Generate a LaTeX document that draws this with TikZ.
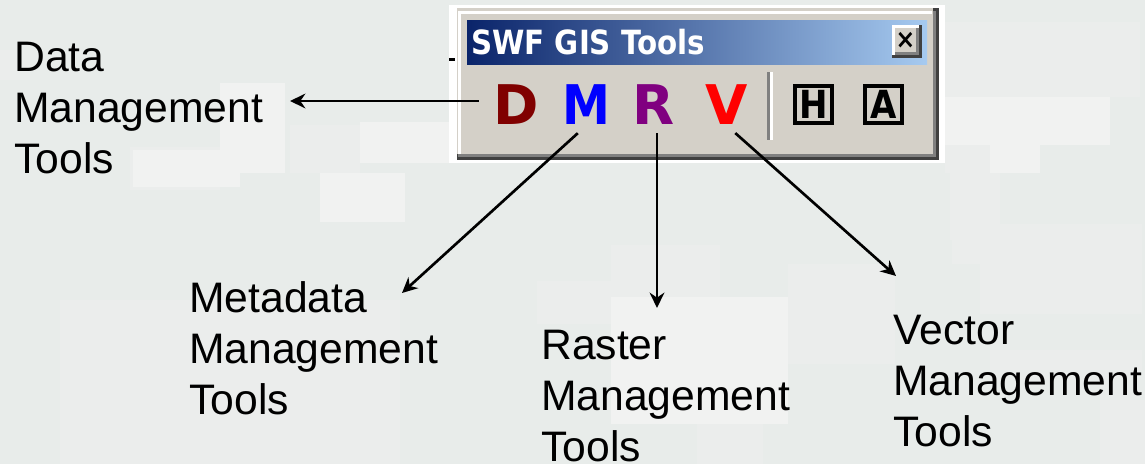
\documentclass[tikz,border=0pt]{standalone}
\usepackage{fontspec}
\setmainfont{Liberation Sans}
\newfontfamily\uifont[FakeStretch=0.88]{DejaVu Sans Bold}
\newfontfamily\wideicon{DejaVu Sans Bold}
\usetikzlibrary{arrows.meta,positioning}
\definecolor{slidebg}{HTML}{E8ECEA}
\definecolor{slidemid}{HTML}{EBEDEC}
\definecolor{slidepatch}{HTML}{F1F2F1}
\definecolor{winface}{HTML}{D4D0C8}
\definecolor{winedge}{HTML}{808080}
\definecolor{windark}{HTML}{404040}
\definecolor{titleleft}{HTML}{0A246A}
\definecolor{titleright}{HTML}{A6CAF0}
\tikzset{
    %Define standard arrow tip
    >={Stealth[length=11.5pt,width=11pt]},
    %Define style for labels
    toollabel/.style={
           inner sep=0pt,
           align=left,
           anchor=base west,
           font=\fontsize{32}{38}\selectfont
           },
    %Define style for toolbar letters
    toolicon/.style={
           inner sep=0pt,
           minimum width=30.75pt,
           minimum height=30.75pt,
           font=\wideicon\fontsize{41}{41}\selectfont
           },
    boxicon/.style={
           rectangle,
           draw=black,
           line width=3pt,
           inner sep=0pt,
           minimum width=27.75pt,
           minimum height=27.75pt,
           font=\uifont\fontsize{29}{29}\selectfont
           },
    % Define arrow style
    pil/.style={
           ->,
           line width=2pt,
           }
}

\begin{document}
\begin{tikzpicture}[x=0.75pt,y=-0.75pt]
\useasboundingbox (0,0) rectangle (1145,464);
\fill[slidebg] (0,0) rectangle (1145,464);
% background blotches
\foreach \xa/\ya/\xb/\yb in {290/125/360/173,130/147/220/190,945/22/1140/97,945/145/1040/173,
    950/173/1000/240,980/264/1142/314,788/264/895/364,611/245/720/297,537/281/611/324,
    952/224/1142/264,990/350/1142/370,697/424/763/464,1100/400/1145/464,60/300/400/464,0/50/30/80}
  \fill[slidemid] (\xa,\ya) rectangle (\xb,\yb);
\foreach \xa/\ya/\xb/\yb in {320/173/405/222,220/83/285/173,133/150/240/187,360/122/450/163,
    945/97/1110/145,990/120/1040/173,611/297/788/424}
  \fill[slidepatch] (\xa,\ya) rectangle (\xb,\yb);
% window
\fill[white] (449,5) rectangle (945,163);
\fill[windark] (457,8) rectangle (939,160);
\fill[winface] (457,8) rectangle (933,154);
\fill[white] (458,11) rectangle (932,14);
\fill[white] (458,11) rectangle (461,154);
\fill[winedge] (458,154) rectangle (933,157);
\fill[winedge] (933,11) rectangle (936,157);
% stray tick
\fill[black] (449,57.5) rectangle (455,60.5);
\shade[left color=titleleft, right color=titleright] (467,20) rectangle (927,64);
\node[anchor=base west, inner sep=0pt, text=white, font=\uifont\fontsize{25}{25}\selectfont]
  (title) at (471,54) {SWF GIS Tools};
% close button
\fill[windark] (892,25) rectangle (922,58);
\fill[white] (892,25) rectangle (919,55);
\fill[winedge] (895,28) rectangle (919,55);
\fill[winface] (895,28) rectangle (916,52);
\node[inner sep=0pt, font=\uifont\fontsize{20}{20}\selectfont] (close) at (905.5,40) {×};
% separator
\fill[winedge] (767,72) rectangle (770,140);
\fill[white] (770,72) rectangle (773,140);
% toolbar letters
\node[toolicon, text=red!50!black] (dicon) at (516.5,104.5) {D};
\node[toolicon, text=blue, font=\uifont\fontsize{41}{41}\selectfont] (micon) at (586.5,104.5) {M};
\node[toolicon, text=violet] (ricon) at (653.5,104.5) {R};
\node[toolicon, text=red] (vicon) at (726.5,104.5) {V};
\node[boxicon] (hicon) at (813.5,104.5) {H};
\node[boxicon] (aicon) at (883.5,104.5) {A};
% labels
\node[toollabel] (dlabel) at (14,173) {Data\\Management\\Tools};
\node[toollabel] (mlabel) at (189,414) {Metadata\\Management\\Tools};
\node[toollabel] (rlabel) at (541,461) {Raster\\Management\\Tools};
\node[toollabel] (vlabel) at (893,446) {Vector\\Management\\Tools};
% arrow tips
\coordinate (dtip) at (290,101);
\coordinate (mtip) at (402,293);
\coordinate (rtip) at (657,308);
\coordinate (vtip) at (896,276);
\path[pil]
  (dicon.west |- dtip) edge[shorten <=11.2pt] (dtip)
  (micon.south) edge[shorten <=8.8pt] (mtip)
  (ricon.south -| rtip) edge[shorten <=6pt] (rtip)
  (vicon.south) edge[shorten <=8.8pt] (vtip);
\end{tikzpicture}
\end{document}
